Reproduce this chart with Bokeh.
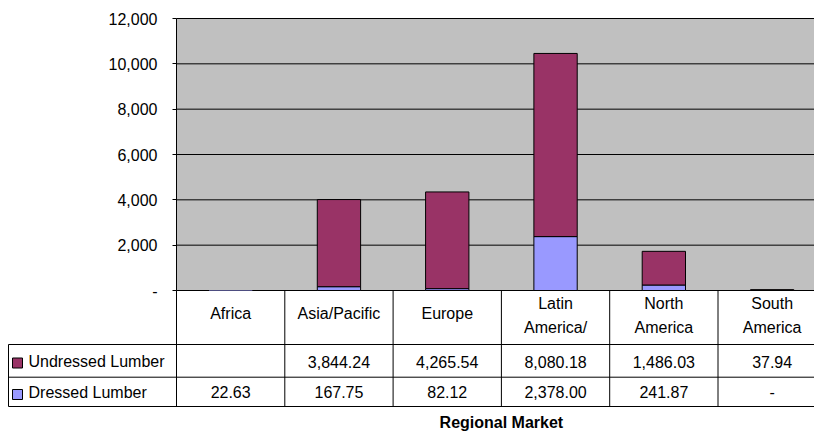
import math
from bokeh.plotting import figure
from bokeh.models import Range1d, FixedTicker, NumeralTickFormatter, ColumnDataSource, LinearAxis
from bokeh.core.properties import value
from bokeh.embed import file_html
from bokeh.resources import INLINE

# ---------------- data ----------------
regions = ["Africa", "Asia/Pacific", "Europe", "Latin America/", "North America", "South America"]
region_lines_1 = ["Africa", "Asia/Pacific", "Europe", "Latin", "North", "South"]
region_lines_2 = ["", "", "", "America/", "America", "America"]
series = ["Undressed Lumber", "Dressed Lumber"]
undressed = [None, 3844.24, 4265.54, 8080.18, 1486.03, 37.94]
dressed = [22.63, 167.75, 82.12, 2378.00, 241.87, 0.0]
y_ticks = [0, 2000, 4000, 6000, 8000, 10000, 12000]
x_title = "Regional Market"

# ---------------- layout constants ----------------
W, H = 814, 431
LEFT = 176          # plot area left edge (px)
TOP = 18            # plot area top (px)
ZERO_Y = 290        # pixel of value 0
CAT_PX = 108.3      # width of one category column (px)
FONT = "Liberation Sans"
FS = "16px"
COL_UND = "#993366"
COL_DRS = "#9999FF"
BG = "#C0C0C0"

ymax = y_ticks[-1]
per_px = ymax / (ZERO_Y - TOP)


def vy(py):
    """window pixel row -> value units of the y scale"""
    return (ZERO_Y - py) * per_px


def vx(px):
    """window pixel column -> category units of the x scale"""
    return (px - LEFT) / CAT_PX


def fmt(v):
    if v is None:
        return ""
    if v == 0:
        return "-"
    return "{:,.2f}".format(v)


n = len(regions)
xs = [i + 0.5 for i in range(n)]
und_top = [d + u if u is not None else math.nan for d, u in zip(dressed, undressed)]
# bars thinner than one pixel are drawn without an outline (as the original does)
d_line = ["black" if d / per_px >= 1 else None for d in dressed]

p = figure(width=W, height=H, output_backend="svg", toolbar_location=None,
           x_range=Range1d(vx(0), vx(W)), y_range=Range1d(vy(H), vy(0)),
           x_axis_location=None, y_axis_location=None,
           min_border_left=0, min_border_right=0, min_border_top=0, min_border_bottom=0)
p.grid.visible = False
p.outline_line_color = None
p.background_fill_color = "white"
p.border_fill_color = "white"

x_right = vx(W) + 1

# plot area background
p.quad(left=[0], right=[x_right], bottom=[0], top=[ymax], fill_color=BG, line_color=None)
# horizontal gridlines at the tick values
p.segment(x0=[0] * len(y_ticks), x1=[x_right] * len(y_ticks), y0=y_ticks, y1=y_ticks,
          line_color="black", line_width=1)

# stacked bars
src = ColumnDataSource(dict(x=xs, d_top=dressed, u_bot=dressed, u_top=und_top, d_line=d_line))
p.vbar(x="x", bottom=0, top="d_top", width=0.4, source=src,
       fill_color=COL_DRS, line_color="d_line", line_width=1)
p.vbar(x="x", bottom="u_bot", top="u_top", width=0.4, source=src,
       fill_color=COL_UND, line_color="black", line_width=1)

# value axis fixed at the plot area's left edge
yaxis = LinearAxis(fixed_location=0, bounds=(0, ymax), ticker=FixedTicker(ticks=y_ticks),
                   formatter=NumeralTickFormatter(format="0,0"))
yaxis.major_label_overrides = {0: "-"}
yaxis.axis_line_color = None
yaxis.major_tick_line_color = "black"
yaxis.major_tick_out = 4
yaxis.major_tick_in = 0
yaxis.minor_tick_line_color = None
yaxis.major_label_standoff = 15
yaxis.major_label_text_font = FONT
yaxis.major_label_text_font_size = FS
yaxis.major_label_text_color = "black"
p.add_layout(yaxis, "left")

# ---------------- data table ----------------
row_y = [vy(344), vy(376.7), vy(406)]
tbl_left = vx(8)

# axis line + column boundaries
p.segment(x0=list(range(n)), x1=list(range(n)), y0=[0] * n, y1=[row_y[2]] * n,
          line_color="black", line_width=1)
p.segment(x0=[0], x1=[0], y0=[0], y1=[ymax], line_color="black", line_width=1)
# row lines
p.segment(x0=[tbl_left] * 3, x1=[x_right] * 3, y0=row_y, y1=row_y, line_color="black", line_width=1)
# left border of legend column
p.segment(x0=[tbl_left], x1=[tbl_left], y0=[row_y[0]], y1=[row_y[2]], line_color="black", line_width=1)

# header labels
hdr1_y = [vy(313) if l2 == "" else vy(303.3) for l2 in region_lines_2]
p.text(x=xs, y=hdr1_y, text=region_lines_1, text_align="center", text_baseline="middle",
       text_font=value(FONT), text_font_size=FS, text_color="black")
p.text(x=xs, y=[vy(326.7)] * n, text=region_lines_2, text_align="center", text_baseline="middle",
       text_font=value(FONT), text_font_size=FS, text_color="black")

# values
y_r1 = vy(361)
y_r2 = vy(391.7)
p.text(x=xs, y=[y_r1] * n, text=[fmt(v) for v in undressed], text_align="center",
       text_baseline="middle", text_font=value(FONT), text_font_size=FS, text_color="black")
p.text(x=xs, y=[y_r2] * n, text=[fmt(v) for v in dressed], text_align="center",
       text_baseline="middle", text_font=value(FONT), text_font_size=FS, text_color="black")

# legend keys and series names
key_x = vx(17)
lab_x = vx(28)
p.scatter(x=[key_x, key_x], y=[vy(362.5), vy(394)], marker="square", size=10,
          fill_color=[COL_UND, COL_DRS], line_color="black", line_width=1)
p.text(x=[lab_x, lab_x], y=[y_r1, y_r2], text=series, text_align="left",
       text_baseline="middle", text_font=value(FONT), text_font_size=FS, text_color="black")

# axis title
p.text(x=[n / 2], y=[vy(421.7)], text=[x_title], text_align="center", text_baseline="middle",
       text_font=value(FONT), text_font_size=FS, text_font_style="bold", text_color="black")

open("out.html", "w").write(file_html(p, INLINE))
